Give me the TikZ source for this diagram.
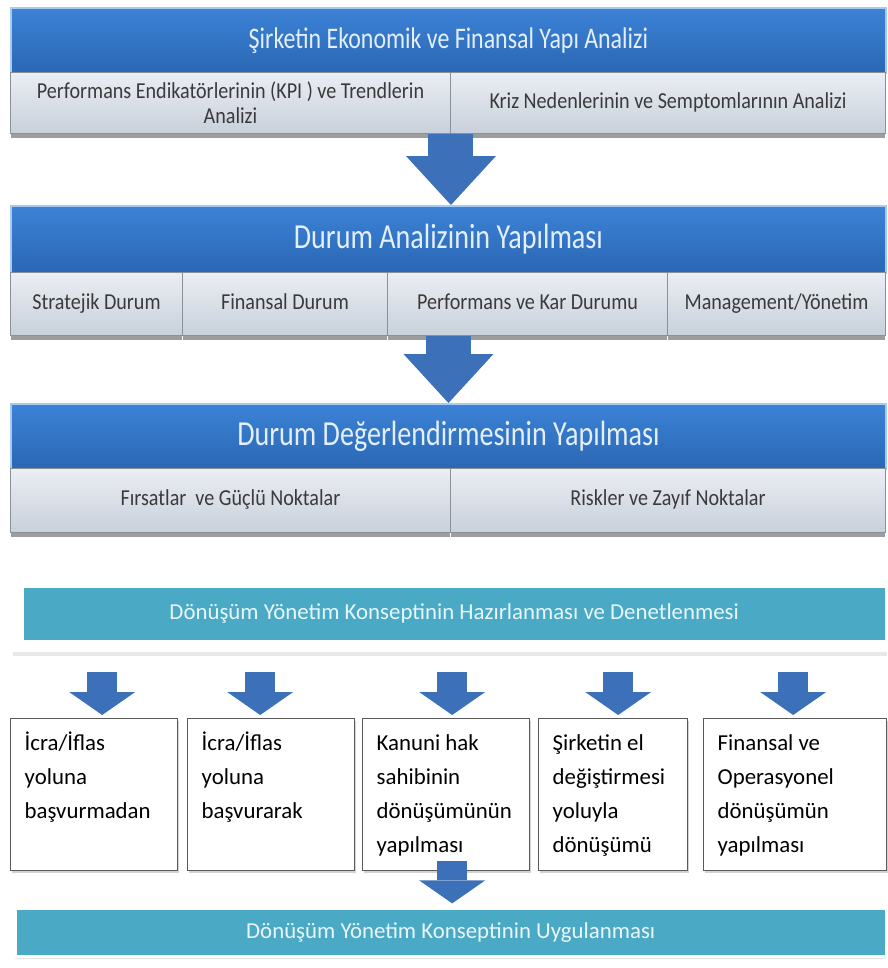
\documentclass[tikz,border=0pt]{standalone}
\usepackage{fontspec}
\setmainfont{Carlito}
\newfontfamily\headfont[FakeStretch=0.8]{Carlito}
\newfontfamily\cellfont[FakeStretch=0.88]{Carlito}
\usetikzlibrary{positioning,arrows.meta,shadows}

\definecolor{hdtop}{HTML}{3C82D6}
\definecolor{hdbot}{HTML}{2A67B4}
\definecolor{hdedge}{HTML}{A6CBF0}
\definecolor{hdtext}{HTML}{E4EFFB}
\definecolor{celltop}{HTML}{EBEEF3}
\definecolor{cellbot}{HTML}{C8D0DB}
\definecolor{cellline}{HTML}{8A9098}
\definecolor{celltext}{HTML}{3A3A3A}
\definecolor{tealband}{HTML}{4AAAC5}
\definecolor{tealtext}{HTML}{E9F6FA}
\definecolor{boxline}{HTML}{5A5A5A}
\definecolor{arrowblue}{HTML}{3C70B8}

\begin{document}
\begin{tikzpicture}[x=0.02cm, y=-0.02cm,
    head/.style={draw=hdedge, line width=1.2pt, top color=hdtop, bottom color=hdbot,
      text=hdtext, anchor=north west, minimum width=17.5cm, minimum height=1.3cm,
      inner sep=0pt, font=\headfont\fontsize{20}{24}\selectfont},
    cell/.style={draw=cellline, line width=0.6pt, top color=celltop, bottom color=cellbot,
      text=celltext, anchor=north west, inner sep=2pt, align=center,
      font=\cellfont\fontsize{13}{14.2}\selectfont,
      drop shadow={shadow xshift=0pt, shadow yshift=-2.5pt, opacity=0.55, fill=black!70}},
    cellone/.style={cell, text height=1.7ex, text depth=0.5ex},
    bandframe/.style={fill=white, anchor=north west, inner sep=0pt,
      drop shadow={shadow xshift=0pt, shadow yshift=-2pt, opacity=0.18}},
    band/.style={fill=tealband, draw=white, line width=1.5pt, text=tealtext,
      anchor=north west, inner sep=0pt, font=\fontsize{13}{16}\selectfont},
    kbox/.style={draw=boxline, line width=0.8pt, fill=white, anchor=north west,
      align=flush left, inner xsep=0.28cm, inner ysep=0.3cm, text height=0.34cm,
      text depth=2.1cm, font=\fontsize{13}{19.4}\selectfont,
      drop shadow={shadow xshift=0.5pt, shadow yshift=-1.5pt, opacity=0.35}},
    bigarrow/.style={draw=arrowblue, line width=0.9cm,
      -{Triangle[width=1.8cm, length=0.98cm, line width=0pt]}},
    smallarrow/.style={draw=arrowblue, line width=0.6cm,
      -{Triangle[width=1.32cm, length=0.46cm, line width=0pt]},
      shorten <=0.64cm, shorten >=0.06cm}]
  \useasboundingbox (0,0) rectangle (887,968);

  \node[head, font=\headfont\fontsize{17}{20}\selectfont] (hd1) at (10,7)
    {Şirketin Ekonomik ve Finansal Yapı Analizi};
  \node[cell, minimum width=8.8cm, minimum height=1.22cm] (kpi) at (10,72)
    {Performans Endikatörlerinin (KPI ) ve Trendlerin\\Analizi};
  \node[cellone, minimum width=8.7cm, minimum height=1.22cm] (kriz) at (450,72)
    {Kriz Nedenlerinin ve Semptomlarının Analizi};

  \node[head, minimum height=1.34cm] (hd2) at (10,205) {Durum Analizinin Yapılması};
  \node[cellone, minimum width=3.44cm, minimum height=1.26cm] (strat) at (10,272) {Stratejik Durum};
  \node[cellone, minimum width=4.1cm, minimum height=1.26cm] (fin) at (182,272) {Finansal Durum};
  \node[cellone, minimum width=5.6cm, minimum height=1.26cm] (perf) at (387,272) {Performans ve Kar Durumu};
  \node[cellone, minimum width=4.36cm, minimum height=1.26cm] (mgmt) at (667,272) {Management/Yönetim};

  \node[head] (hd3) at (10,403) {Durum Değerlendirmesinin Yapılması};
  \node[cellone, minimum width=8.8cm, minimum height=1.28cm] (firsat) at (10,468)
    {Fırsatlar\ \ ve Güçlü Noktalar};
  \node[cellone, minimum width=8.7cm, minimum height=1.28cm] (risk) at (450,468)
    {Riskler ve Zayıf Noktalar};

  \draw[bigarrow] (kpi.south east) -- (kpi.south east |- hd2.north);
  \draw[bigarrow] (hd2.south |- perf.south) -- (hd3.north);

  \node[bandframe, minimum width=17.48cm, minimum height=1.54cm] (fr1) at (13,575) {};
  \node[band, minimum width=17.28cm, minimum height=1.1cm] (tk1) at (21,585)
    {Dönüşüm Yönetim Konseptinin Hazırlanması ve Denetlenmesi};

  \node[kbox, text width=2.78cm] (k1) at (10,718) {İcra/İflas\\yoluna\\başvurmadan};
  \node[kbox, text width=2.78cm] (k2) at (187,718) {İcra/İflas\\yoluna\\başvurarak};
  \node[kbox, text width=2.78cm] (k3) at (362,718) {Kanuni hak\\sahibinin\\dönüşümünün\\yapılması};
  \node[kbox, text width=2.42cm] (k4) at (538,718) {Şirketin el\\değiştirmesi\\yoluyla\\dönüşümü};
  \node[kbox, text width=3.1cm] (k5) at (703,718) {Finansal ve\\Operasyonel\\dönüşümün\\yapılması};

  \node[band, minimum width=17.42cm, minimum height=0.96cm,
    drop shadow={shadow xshift=0pt, shadow yshift=-1.5pt, opacity=0.2}] (tk2) at (14,907)
    {Dönüşüm Yönetim Konseptinin Uygulanması};

  \foreach \k/\dx in {k1/8,k2/-11,k3/6,k4/5,k5/-2}
    \draw[smallarrow] ([xshift=\dx*0.02cm, yshift=1.56cm]\k.north) -- ([xshift=\dx*0.02cm]\k.north);
  \draw[smallarrow, shorten <=-0.2cm, shorten >=0.1cm]
    ([xshift=0.12cm]k3.south) -- ([xshift=0.12cm, yshift=-0.74cm]k3.south);
\end{tikzpicture}
\end{document}
